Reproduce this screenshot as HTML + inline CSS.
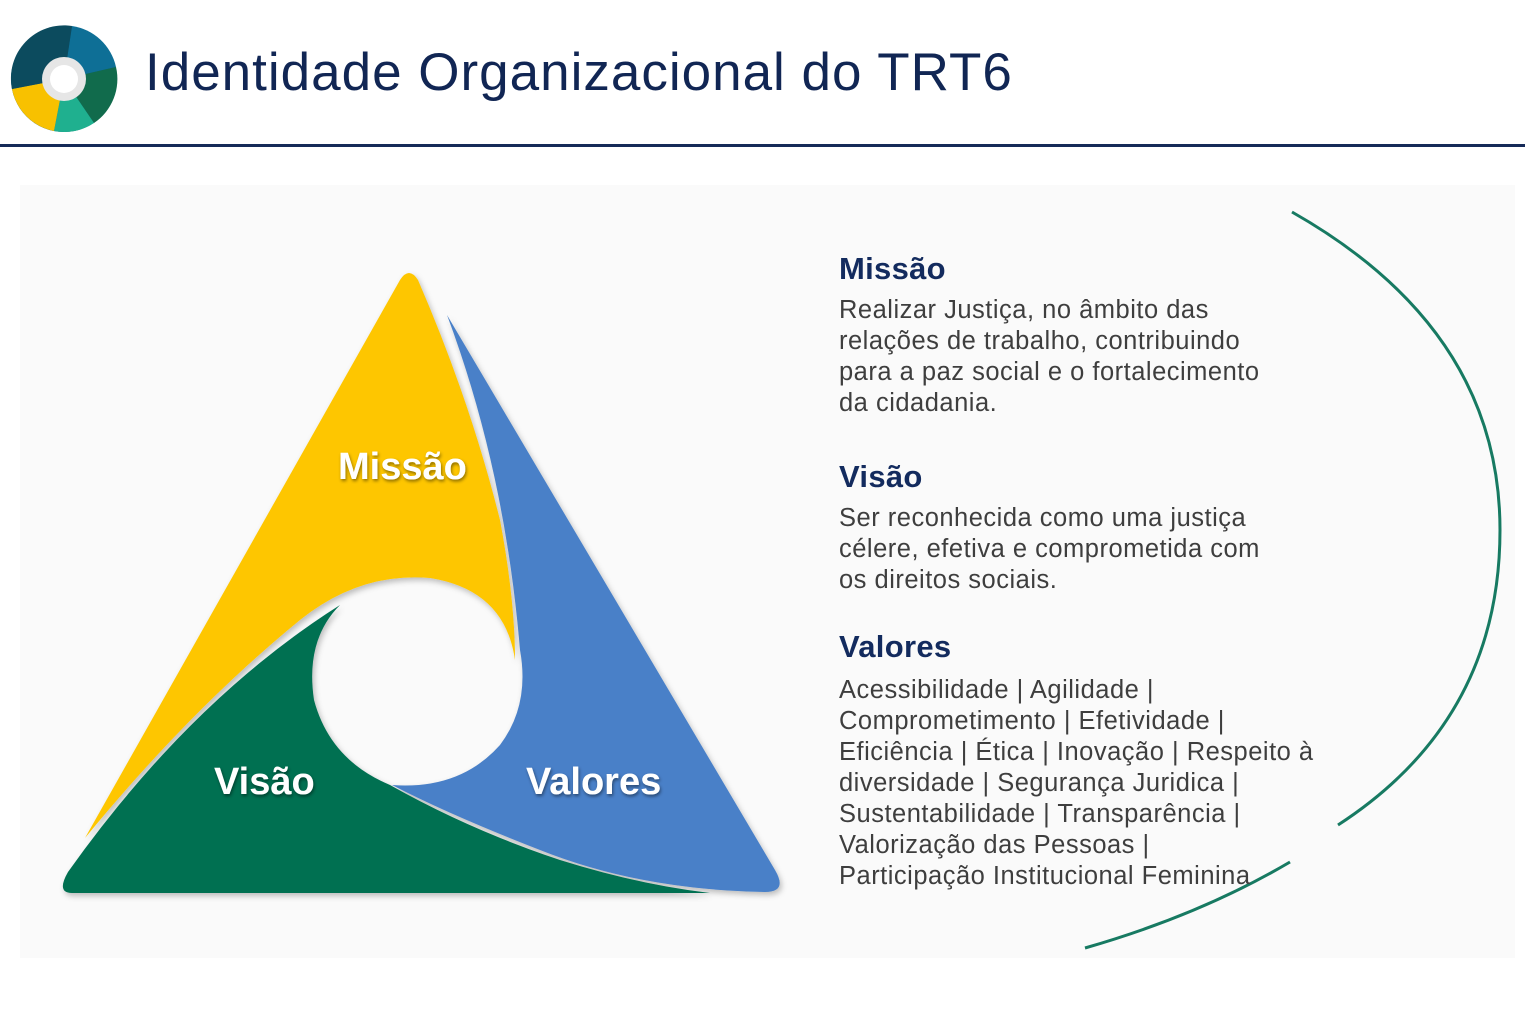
<!DOCTYPE html>
<html><head><meta charset="utf-8"><style>
html,body{margin:0;padding:0;background:#fff;}
body{width:1536px;height:1024px;position:relative;overflow:hidden;font-family:"Liberation Sans","DejaVu Sans",sans-serif;}
.title{position:absolute;left:145px;top:42px;font-size:53px;color:#112654;letter-spacing:1px;}
.rule{position:absolute;left:0;top:144px;width:1525px;height:3px;background:#152a58;}
.panel{position:absolute;left:20px;top:185px;width:1495px;height:773px;background:#fafafa;}
.h{position:absolute;left:839px;font-size:31px;font-weight:bold;color:#132b5e;letter-spacing:0.3px;}
.p{position:absolute;left:839px;font-size:25.5px;line-height:31px;color:#3e3e3e;letter-spacing:0.5px;white-space:nowrap;}
</style></head><body>
<div class="panel"></div>
<svg style="position:absolute;left:0;top:0" width="1536" height="1024">
 <defs>
  <filter id="sh" x="-10%" y="-10%" width="120%" height="120%"><feDropShadow dx="2" dy="3" stdDeviation="3" flood-color="#000" flood-opacity="0.25"/></filter>
  <filter id="ts"><feDropShadow dx="1" dy="2" stdDeviation="1.5" flood-color="#000" flood-opacity="0.45"/></filter>
 </defs>
 <g transform="translate(64,79)">
  <circle r="53" fill="#0a5a7c"/>
  <path d="M0,0 L8,-53 A53,53 0 0,1 52,-12 Z" fill="#0e6f96"/>
  <path d="M0,0 L52,-12 A53,53 0 0,1 30,44 Z" fill="#116b4c"/>
  <path d="M0,0 L30,44 A53,53 0 0,1 -10,52 Z" fill="#1fb08f"/>
  <path d="M0,0 L-10,52 A53,53 0 0,1 -52,10 Z" fill="#f8c100"/>
  <path d="M0,0 L-52,10 A53,53 0 0,1 8,-53 Z" fill="#0c4b5e"/>
  <circle r="22" fill="#e6e6e6"/><circle r="14" fill="#fff"/>
 </g>
 <g filter="url(#sh)">
  <path d="M400,280 Q409,266 418,280 Q470,400 500,520 Q515,600 515,660 Q505,590 430,578 Q360,572 300,620 Q190,710 85,838 Z" fill="#fec602"/>
  <path d="M447,315 L775,870 Q788,892 765,892 Q640,890 540,850 Q450,815 392,785 Q460,790 500,745 Q530,705 520,650 Q505,470 447,315 Z" fill="#4a80c8"/>
  <path d="M68,872 Q190,700 340,605 Q305,640 314,700 Q330,760 390,785 Q470,830 560,860 Q640,885 710,893 L72,893 Q56,893 68,872 Z" fill="#066f51"/>
 </g>
 <g font-weight="bold" fill="#fff" filter="url(#ts)" font-size="38">
  <text x="338" y="479">Missão</text>
  <text x="214" y="794">Visão</text>
  <text x="526" y="794">Valores</text>
 </g>
 <path d="M1292,212 Q1500,330 1500,530 Q1500,720 1338,825" fill="none" stroke="#177a62" stroke-width="3"/>
 <path d="M1290,862 Q1200,915 1085,948" fill="none" stroke="#177a62" stroke-width="3"/>
</svg>
<div class="title">Identidade Organizacional do TRT6</div>
<div class="rule"></div>
<div class="h" style="top:251px">Missão</div>
<div class="p" style="top:295px">Realizar Justiça, no âmbito das<br>relações de trabalho, contribuindo<br>para a paz social e o fortalecimento<br>da cidadania.</div>
<div class="h" style="top:459px">Visão</div>
<div class="p" style="top:503px">Ser reconhecida como uma justiça<br>célere, efetiva e comprometida com<br>os direitos sociais.</div>
<div class="h" style="top:629px">Valores</div>
<div class="p" style="top:675px">Acessibilidade | Agilidade |<br>Comprometimento | Efetividade |<br>Eficiência | Ética | Inovação | Respeito à<br>diversidade | Segurança Juridica |<br>Sustentabilidade | Transparência |<br>Valorização das Pessoas |<br>Participação Institucional Feminina</div>
</body></html>
